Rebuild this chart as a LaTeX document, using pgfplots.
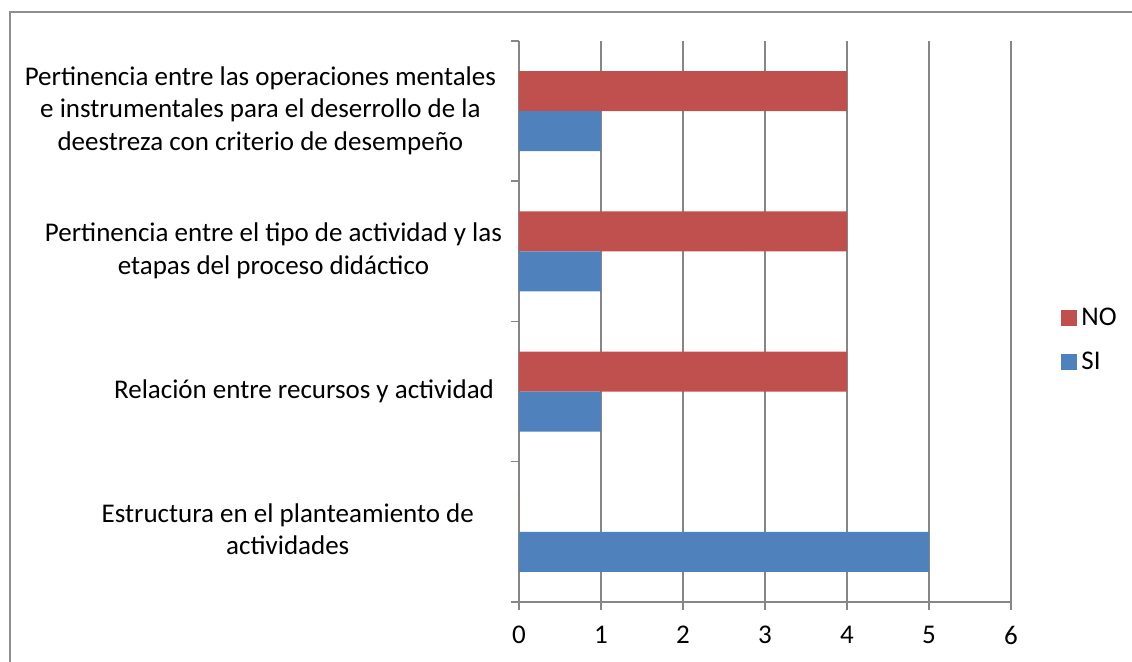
\documentclass[border=0pt]{standalone}
\usepackage{fontspec}
\setmainfont{Carlito}
\usepackage{pgfplots}
\pgfplotsset{compat=1.18}
\definecolor{siblue}{HTML}{4F81BD}
\definecolor{nored}{HTML}{C0504D}
\definecolor{gridgray}{HTML}{868686}
\definecolor{framegray}{HTML}{8E8E8E}
\begin{document}
\begin{tikzpicture}
\path[use as bounding box] (0pt,0pt) rectangle (566pt,-331pt);
\draw[framegray, line width=1pt] (4.75pt,-331pt) -- (4.75pt,-6pt) -- (566pt,-6pt);
\begin{axis}[
  at={(259.5pt,-301pt)}, anchor=south west,
  scale only axis, width=246pt, height=280.5pt,
  xmin=0, xmax=6, ymin=-0.5, ymax=3.5,
  xtick={0,1,2,3,4,5,6},
  ytick={-0.5,0.5,1.5,2.5,3.5}, yticklabels={},
  extra y ticks={0,1,2,3},
  extra y tick labels={
    {\begin{tabular}{@{}c@{}}Estructura en el planteamiento de\\actividades\end{tabular}\kern14pt\mbox{}},
    {Relación entre recursos y actividad\kern4pt\mbox{}},
    {\begin{tabular}{@{}c@{}}Pertinencia entre el tipo de actividad y las\\etapas del proceso didáctico\end{tabular}},
    {\begin{tabular}{@{}c@{}}Pertinencia entre las operaciones mentales\\e instrumentales para el deserrollo de la\\deestreza con criterio de desempeño\end{tabular}\kern3pt\mbox{}}},
  extra y tick style={major tick length=0pt, grid=none, tick style={draw=none}},
  xmajorgrids, ymajorgrids=false,
  grid style={gridgray, line width=0.75pt},
  axis x line*=bottom, axis y line*=left,
  axis line style={gridgray, line width=0.75pt, -},
  tick style={gridgray, line width=0.75pt},
  tick align=outside, major tick length=4pt,
  /pgf/number format/assume math mode=true,
  tick label style={font=\fontsize{13.5}{16.3}\selectfont},
  xticklabel style={yshift=-4.5pt},
  yticklabel style={xshift=-5pt},
  legend style={draw=none, at={(1,0.467)}, anchor=west, xshift=22pt,
    font=\fontsize{13.5}{16}\selectfont, row sep=8pt},
  legend cell align=left,
  legend image code/.code={\fill[#1] (0pt,-4pt) rectangle (8pt,4pt);},
]
\addplot[xbar, bar width=20pt, bar shift=10pt, fill=nored, draw=none] coordinates {(0,0) (4,1) (4,2) (4,3)};
\addlegendentry{NO}
\addplot[xbar, bar width=20pt, bar shift=-10pt, fill=siblue, draw=none] coordinates {(5,0) (1,1) (1,2) (1,3)};
\addlegendentry{SI}
\end{axis}
\end{tikzpicture}
\end{document}
